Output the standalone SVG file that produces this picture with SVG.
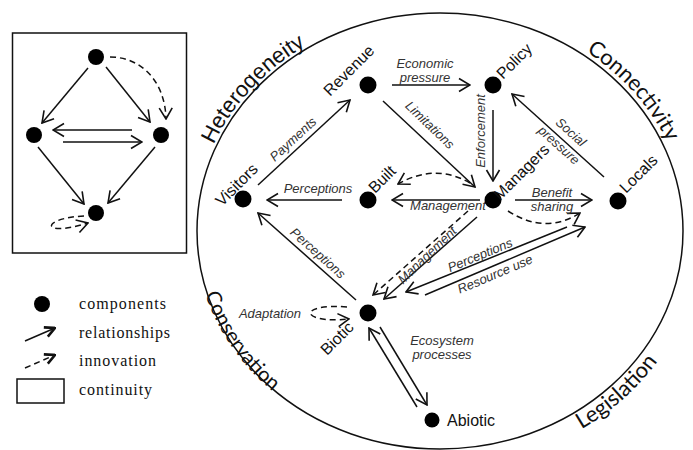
<svg xmlns="http://www.w3.org/2000/svg" width="693" height="450" viewBox="0 0 693 450">
<defs>
<style>
.ln{stroke:#111;stroke-width:1.5;fill:none}
.dash{stroke-dasharray:6 4}
.dot{fill:#000}
.lab{font-family:"Liberation Sans",Arial,sans-serif;font-style:italic;font-size:13px;fill:#333;text-anchor:middle}
.node{font-family:"Liberation Sans",Arial,sans-serif;font-size:16px;fill:#111}
.arcA{font-family:"Liberation Sans",Arial,sans-serif;font-size:22px;fill:#111}
.arcB{font-family:Lato,"Liberation Sans",sans-serif;font-size:22px;fill:#111}
.leg{font-family:"Liberation Serif","Times New Roman",serif;font-size:16px;fill:#111}
</style>
<marker id="ah" viewBox="-1 -8 13 16" refX="11" refY="0" markerWidth="13" markerHeight="16" markerUnits="userSpaceOnUse" orient="auto">
<path d="M0,-6.5 L11,0 L0,6.5" fill="none" stroke="#111" stroke-width="1.6"/>
</marker>
<marker id="ahb" viewBox="-1 -7 12 14" refX="10" refY="0" markerWidth="12" markerHeight="14" markerUnits="userSpaceOnUse" orient="auto">
<path d="M0,-5 L10,0 L0,5" fill="none" stroke="#111" stroke-width="2.6"/>
</marker>
<path id="pHet" d="M211.9 313.8 A246 221 0 0 1 474.2 12.1"/>
<path id="pCon" d="M415 9 A251 226 0 0 1 672 316"/>
<path id="pCons" d="M226 124 A244 219 0 0 0 436 450"/>
<path id="pLeg" d="M380 460.7 A261 236 0 0 0 690 163.2"/>
</defs>
<rect width="693" height="450" fill="#fff"/>

<g id="boundary">
<ellipse cx="440" cy="231" rx="243" ry="218" class="ln" stroke-width="1.3"/>
<text class="arcA"><textPath href="#pHet" startOffset="50%" text-anchor="middle">Heterogeneity</textPath></text>
<text class="arcB"><textPath href="#pCon" startOffset="50%" text-anchor="middle">Connectivity</textPath></text>
<text class="arcB" style="font-size:20.5px"><textPath href="#pCons" startOffset="50%" text-anchor="middle">Conservation</textPath></text>
<text class="arcB"><textPath href="#pLeg" startOffset="50%" text-anchor="middle">Legislation</textPath></text>
</g>

<g id="inset">
<rect x="12.5" y="33" width="174" height="220" class="ln"/>
<circle cx="96" cy="57" r="8" class="dot"/>
<circle cx="34" cy="135" r="8" class="dot"/>
<circle cx="161" cy="135" r="8" class="dot"/>
<circle cx="96" cy="213" r="8" class="dot"/>
<path class="ln" d="M88,68 L42,123" marker-end="url(#ah)"/>
<path class="ln" d="M106,67 L150,122" marker-end="url(#ah)"/>
<path class="ln" d="M132,130 L53,130" marker-end="url(#ah)"/>
<path class="ln" d="M63,142 L142,142" marker-end="url(#ah)"/>
<path class="ln" d="M38,147 L84,204" marker-end="url(#ah)"/>
<path class="ln" d="M155,147 L108,203" marker-end="url(#ah)"/>
<path class="ln dash" d="M110,57 C140,57 165,80 166,119" marker-end="url(#ah)"/>
<path class="ln dash" d="M84,216 C40,218 40,238 88,223" marker-end="url(#ah)"/>
</g>

<g id="legend">
<circle cx="42" cy="304" r="8" class="dot"/>
<path class="ln" stroke-width="2" d="M25,341 L55,328" marker-end="url(#ahb)"/>
<path class="ln dash" stroke-width="2" d="M25,368 L55,355" marker-end="url(#ahb)"/>
<rect x="17" y="379" width="47" height="24" class="ln"/>
<text class="leg" x="79" y="309" textLength="87">components</text>
<text class="leg" x="79" y="338" textLength="91">relationships</text>
<text class="leg" x="79" y="366" textLength="77">innovation</text>
<text class="leg" x="79" y="395" textLength="73">continuity</text>
</g>

<g id="connectors">
<path class="ln" d="M258,185 L350,100" marker-end="url(#ah)"/>
<path class="ln" d="M392,85 L470,85" marker-end="url(#ah)"/>
<path class="ln" d="M383,101 L475,187" marker-end="url(#ah)"/>
<path class="ln" d="M493,110 L493,181" marker-end="url(#ah)"/>
<path class="ln" d="M604,177 L512,94" marker-end="url(#ah)"/>
<path class="ln" d="M515,200 L592,200" marker-end="url(#ah)"/>
<path class="ln dash" d="M508,211 Q545,235 580,213" marker-end="url(#ah)"/>
<path class="ln" d="M480,200 L392,200" marker-end="url(#ah)"/>
<path class="ln dash" d="M470,183 Q435,163 398,184" marker-end="url(#ah)"/>
<path class="ln" d="M342,200 L267,200" marker-end="url(#ah)"/>
<path class="ln" d="M356,300 L258,213" marker-end="url(#ah)"/>
<path class="ln" d="M477,217 L384,299" marker-end="url(#ah)"/>
<path class="ln dash" d="M468,211 L373,295" marker-end="url(#ah)"/>
<path class="ln" d="M567,227 L406,292" marker-end="url(#ah)"/>
<path class="ln" d="M425,295 L585,227" marker-end="url(#ah)"/>
<path class="ln" d="M380,327 L427,405" marker-end="url(#ah)"/>
<path class="ln" d="M417,407 L369,328" marker-end="url(#ah)"/>
<path class="ln dash" d="M347,307 C297,303 299,324 349,319" marker-end="url(#ah)"/>
<text class="lab" transform="translate(293,139) rotate(-42.7)" dy="0.35em">Payments</text>
<text class="lab" x="425" y="63" dy="0.35em">Economic</text>
<text class="lab" x="425" y="77" dy="0.35em">pressure</text>
<text class="lab" transform="translate(430,125) rotate(43.7)" dy="0.35em">Limitations</text>
<text class="lab" transform="translate(480,131) rotate(-90)" dy="0.35em">Enforcement</text>
<text class="lab" transform="translate(571,132) rotate(42)" dy="0.35em">Social</text>
<text class="lab" transform="translate(559,145) rotate(42)" dy="0.35em">pressure</text>
<text class="lab" x="552" y="192" dy="0.35em">Benefit</text>
<text class="lab" x="552" y="206" dy="0.35em">sharing</text>
<text class="lab" x="448" y="205" dy="0.35em">Management</text>
<text class="lab" x="318" y="188" dy="0.35em">Perceptions</text>
<text class="lab" transform="translate(318,253) rotate(41.6)" dy="0.35em">Perceptions</text>
<text class="lab" transform="translate(427,255) rotate(-44)" dy="0.35em">Management</text>
<text class="lab" transform="translate(480,255) rotate(-22.5)" dy="0.35em">Perceptions</text>
<text class="lab" transform="translate(495,274) rotate(-23)" dy="0.35em">Resource use</text>
<text class="lab" x="442" y="340" dy="0.35em">Ecosystem</text>
<text class="lab" x="442" y="354" dy="0.35em">processes</text>
<text class="lab" x="270" y="313" dy="0.35em">Adaptation</text>
</g>

<g id="revenue"><circle cx="368" cy="85" r="8.5" class="dot"/><text class="node" transform="translate(330,97) rotate(-45)">Revenue</text></g>
<g id="policy"><circle cx="493" cy="85" r="8.5" class="dot"/><text class="node" transform="translate(503,80) rotate(-45)">Policy</text></g>
<g id="managers"><circle cx="493" cy="200" r="8.5" class="dot"/><text class="node" transform="translate(500,201) rotate(-45)">Managers</text></g>
<g id="built"><circle cx="368" cy="200" r="8.5" class="dot"/><text class="node" transform="translate(375,194) rotate(-45)">Built</text></g>
<g id="visitors"><circle cx="243" cy="199" r="8.5" class="dot"/><text class="node" transform="translate(222,207) rotate(-45)">Visitors</text></g>
<g id="locals"><circle cx="618" cy="201" r="8.5" class="dot"/><text class="node" transform="translate(626,194) rotate(-45)">Locals</text></g>
<g id="biotic"><circle cx="368" cy="313" r="8.5" class="dot"/><text class="node" transform="translate(327,356) rotate(-45)">Biotic</text></g>
<g id="abiotic"><circle cx="432" cy="420" r="7.5" class="dot"/><text class="node" x="447" y="426">Abiotic</text></g>
</svg>
